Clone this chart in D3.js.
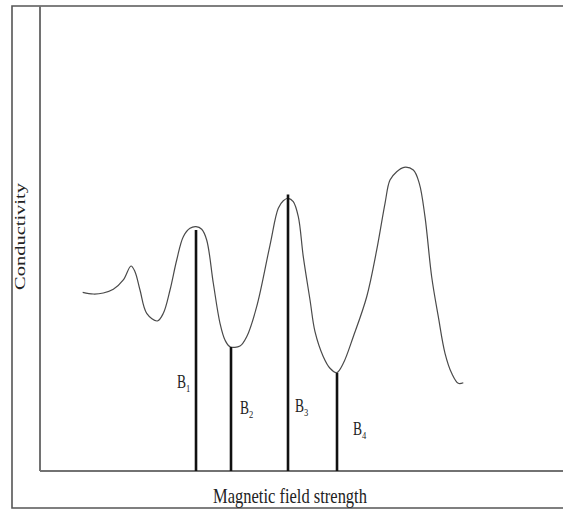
<!DOCTYPE html>
<html>
<head>
<meta charset="utf-8">
<script src="https://cdn.jsdelivr.net/npm/d3@7"></script>
<style>
  html, body { margin: 0; padding: 0; background: #fff; }
  svg { display: block; }
</style>
</head>
<body>
<svg id="chart" width="563" height="509"></svg>
<script>
// Conductivity vs magnetic field strength (schematic, arbitrary units 0-100)

// curve samples: field strength (x) and conductivity (y)
const fieldVals = [8.16, 10.19, 12.10, 14.02, 15.93, 17.40, 18.16, 19.12, 20.40, 22.43,
  23.58, 24.86, 26.14, 27.40, 28.68, 29.83, 30.92, 31.87, 33.14, 34.42,
  35.37, 36.33, 38.24, 39.52, 41.43, 43.98, 45.56, 46.52, 47.48, 48.43,
  49.39, 50.34, 51.63, 52.58, 54.17, 55.45, 56.73, 57.99, 59.90, 62.47,
  64.38, 65.97, 66.92, 68.20, 69.60, 71.38, 72.52, 73.61, 74.89, 76.16,
  77.44, 78.72, 79.98, 80.94];
const condVals = [38.43, 38.06, 38.28, 39.08, 41.08, 44.09, 42.86, 38.92, 33.91, 32.26,
  33.91, 38.92, 45.38, 50.39, 52.19, 52.54, 51.98, 49.68, 40.37, 31.76,
  28.17, 26.73, 26.88, 28.88, 35.33, 48.60, 56.49, 58.13, 58.65, 57.91,
  54.69, 46.09, 36.77, 29.96, 24.58, 22.09, 21.14, 23.16, 28.88, 37.48,
  47.53, 57.57, 62.58, 64.37, 65.31, 64.73, 61.87, 54.69, 41.78, 33.18,
  25.31, 21.01, 18.86, 18.99];

// marker lines B1..B4
const markerNames = ["B", "B", "B", "B"];
const markerSubs = ["1", "2", "3", "4"];
const markerField = [29.83, 36.52, 47.42, 56.79];
const markerTop = [51.83, 26.67, 59.46, 21.08];

const xLabel = "Magnetic field strength";
const yLabel = "Conductivity";

const svg = d3.select("#chart");
const W = +svg.attr("width"), H = +svg.attr("height");
const serif = "Liberation Serif, Times New Roman, serif";

const x = d3.scaleLinear().domain([0, 100]).range([40, 563]);
const y = d3.scaleLinear().domain([0, 100]).range([471, 6]);

// outer frame (right side runs off the image)
svg.append("path")
  .attr("d", `M${W + 5},6 H12 V508 H${W + 5}`)
  .attr("fill", "none")
  .attr("stroke", "#555")
  .attr("stroke-width", 1.6);

// axes as plain lines
svg.append("line")
  .attr("x1", x(0)).attr("x2", x(0))
  .attr("y1", y(100)).attr("y2", y(0))
  .attr("stroke", "#727272").attr("stroke-width", 2);
svg.append("line")
  .attr("x1", x(0)).attr("x2", x(100))
  .attr("y1", y(0)).attr("y2", y(0))
  .attr("stroke", "#727272").attr("stroke-width", 2);

const pts = fieldVals.map((f, i) => ({f: f, c: condVals[i]}));

svg.append("path")
  .datum(pts)
  .attr("fill", "none")
  .attr("stroke", "#4a4a4a")
  .attr("stroke-width", 1.2)
  .attr("d", d3.line()
    .x(d => x(d.f))
    .y(d => y(d.c))
    .curve(d3.curveCatmullRom.alpha(0.5))
  );

// vertical marker lines
svg.selectAll("line.marker")
  .data(markerField)
  .enter().append("line")
  .attr("class", "marker")
  .attr("x1", d => x(d)).attr("x2", d => x(d))
  .attr("y1", (d, i) => y(markerTop[i]))
  .attr("y2", y(0))
  .attr("stroke", "#111")
  .attr("stroke-width", 2.6);

// label placement relative to each marker line
const labelDx = [-19, 9, 7, 16];
const labelY = [388, 414, 412, 435];

// the source figure is stretched vertically, so text gets scale(1, 1.33)
const lab = svg.selectAll("text.mlabel")
  .data(markerNames)
  .enter().append("text")
  .attr("class", "mlabel")
  .attr("transform", (d, i) => `translate(${x(markerField[i]) + labelDx[i]},${labelY[i]}) scale(1,1.33)`)
  .attr("font-family", serif)
  .attr("font-size", 13.5)
  .attr("fill", "#222");
lab.append("tspan").text(d => d);
lab.append("tspan")
  .attr("font-size", 8.5)
  .attr("dy", 3)
  .text((d, i) => markerSubs[i]);

svg.append("text")
  .attr("transform", "translate(290,503) scale(1,1.33)")
  .attr("text-anchor", "middle")
  .attr("font-family", serif)
  .attr("font-size", 16.5)
  .attr("fill", "#222")
  .text(xLabel);

const yl = svg.append("text")
  .attr("text-anchor", "middle")
  .attr("font-family", serif)
  .attr("font-size", 14)
  .attr("fill", "#222")
  .text(yLabel);
const ylen = yl.node().getComputedTextLength();
yl.attr("transform", `translate(25,236.5) rotate(-90) scale(${107 / ylen},1)`);
</script>
</body>
</html>
